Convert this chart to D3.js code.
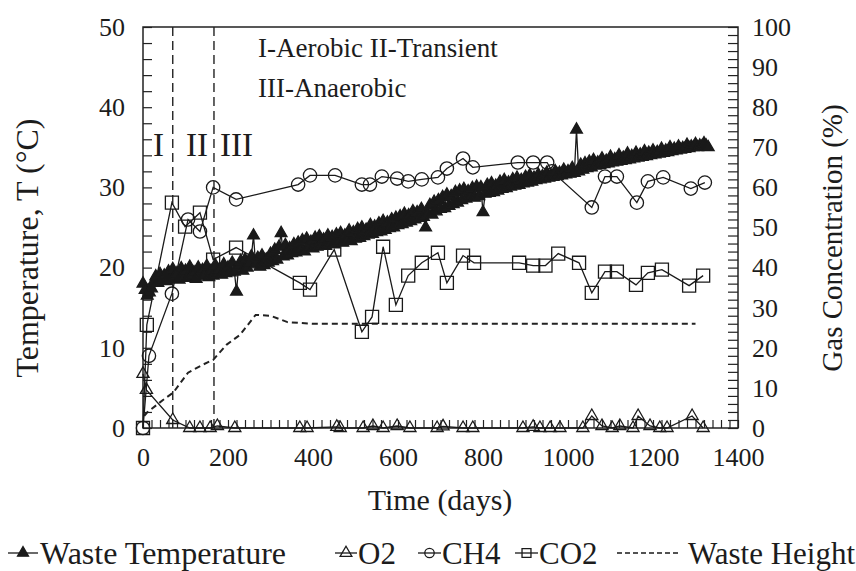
<!DOCTYPE html>
<html>
<head>
<meta charset="utf-8">
<script src="https://cdn.jsdelivr.net/npm/d3@7"></script>
<style>
  body { margin: 0; background: #fff; }
</style>
</head>
<body>
<div id="viz"></div>
<script>
const FONT = "'Liberation Serif', 'Tinos', 'Times New Roman', 'DejaVu Serif', serif";

// waste temperature (degC), one reading every 5 days from day 0
const tempStep = 5;
const temperature = [
  18.0, 17.2, 16.5, 16.9, 17.4, 18.2, 18.9, 18.1, 19.2, 18.4,
  19.0, 18.3, 19.5, 18.6, 19.8, 18.9, 19.3, 18.5, 19.9, 18.8,
  19.6, 18.7, 20.1, 19.0, 19.4, 18.6, 20.0, 18.9, 19.7, 19.1,
  20.2, 18.8, 19.6, 19.0, 20.3, 19.2, 19.8, 19.1, 20.4, 19.3,
  20.0, 19.4, 20.6, 19.5, 17.0, 20.2, 20.8, 19.6, 21.0, 20.0,
  20.6, 21.4, 24.0, 20.4, 21.2, 20.1, 21.5, 20.3, 21.0, 20.6,
  21.7, 20.8, 22.2, 21.0, 22.6, 24.3, 21.4, 22.8, 21.5, 22.4,
  21.8, 22.9, 21.9, 23.1, 22.2, 23.4, 22.0, 23.6, 22.5, 23.2,
  22.4, 23.7, 22.6, 23.9, 22.8, 23.5, 22.7, 24.0, 23.0, 23.8,
  22.9, 24.1, 23.2, 24.3, 23.1, 24.0, 23.4, 24.6, 23.3, 24.4,
  23.6, 24.8, 23.7, 25.0, 23.9, 24.7, 24.1, 25.3, 24.2, 25.1,
  24.4, 25.5, 24.5, 25.8, 24.7, 25.6, 24.9, 26.0, 25.0, 26.2,
  25.3, 26.4, 25.4, 26.7, 25.6, 26.5, 25.8, 27.0, 26.0, 26.9,
  26.2, 27.3, 26.3, 25.0, 26.7, 27.8, 26.6, 28.2, 27.0, 28.4,
  27.3, 28.8, 27.4, 29.1, 27.7, 28.9, 27.9, 29.4, 28.1, 29.6,
  28.4, 29.8, 28.6, 29.5, 28.8, 29.9, 28.7, 30.1, 28.9, 30.0,
  26.9, 29.2, 30.3, 29.3, 30.5, 29.4, 30.2, 29.6, 30.7, 29.8,
  30.9, 29.9, 30.6, 30.1, 31.0, 30.2, 31.2, 30.3, 30.9, 30.5,
  31.3, 30.6, 31.5, 30.7, 31.2, 30.9, 31.6, 31.0, 31.4, 31.1,
  31.8, 31.2, 31.5, 31.3, 32.0, 31.4, 31.8, 31.5, 32.2, 31.6,
  32.0, 31.7, 32.4, 31.8, 37.2, 32.0, 32.8, 32.2, 33.0, 32.4,
  33.2, 32.5, 33.4, 32.7, 33.1, 32.8, 33.6, 32.9, 33.3, 33.0,
  33.8, 33.1, 33.5, 33.2, 34.0, 33.3, 33.7, 33.4, 34.2, 33.5,
  33.9, 33.6, 34.3, 33.7, 34.1, 33.8, 34.5, 33.9, 34.3, 34.0,
  34.6, 34.1, 34.4, 34.2, 34.8, 34.3, 34.6, 34.4, 35.0, 34.5,
  34.8, 34.6, 35.1, 34.7, 34.9, 34.8, 35.3, 34.9, 35.1, 35.0,
  35.4, 35.0, 35.2, 35.1, 35.5, 35.2, 35.0
];

// gas concentrations, [day, %]
const o2 = [
  [0,13.5],[8,9.5],[70,2],[110,0],[134,0],[158,0],[175,0.5],[216,0],[369,0],[386,0],
  [456,0.3],[464,0],[518,0],[541,0.5],[565,0],[598,0.5],[628,0],[692,0],[706,0.4],[753,0],
  [776,0],[894,0],[918,0.3],[934,0],[958,0],[981,0],[1035,0],[1056,3],[1080,0.5],[1104,0],
  [1122,0.5],[1153,0],[1165,3],[1193,0.5],[1216,0],[1233,0],[1292,3],[1318,0]
];
const ch4 = [
  [0,0],[14,18],[68,33.5],[106,52],[134,49],[165,60],[219,57],[365,60.7],[393,63],[452,63],
  [515,60.7],[534,60.7],[562,62.7],[598,62.2],[624,61.5],[656,62],[694,62.5],[715,64.7],[753,67.2],[776,65],
  [882,66.2],[918,66.2],[951,66.2],[962,64],[1056,55],[1087,62.7],[1115,62.7],[1162,56.2],[1188,61.5],[1224,62.5],
  [1289,59.7],[1322,61.2]
];
const co2 = [
  [0,0],[9,25.7],[68,56.2],[99,50.2],[134,53.7],[165,42],[219,45],[369,36.2],[393,34.5],[450,44.5],
  [515,24],[539,27.7],[565,45.2],[595,30.7],[624,38],[656,41.2],[694,43.7],[715,36.2],[753,43],[779,41.2],
  [885,41.2],[918,40.5],[947,40.5],[977,43.5],[1026,41.2],[1056,33.7],[1087,39],[1115,39],[1160,35.7],[1188,38.7],
  [1221,39.5],[1285,35.5],[1318,38]
];
// waste height, drawn on the left axis
const wasteHeight = [
  [3,1.5],[9,1.9],[47,3.5],[71,4.4],[106,6.9],[141,7.9],[165,8.5],[197,10.4],[228,11.6],[265,14.1],
  [300,14.0],[340,13.2],[400,13.0],[1300,13.0]
];
const phaseDays = [70, 167];

const tempPoints = temperature.map((v, i) => [i * tempStep, v]);

const W = 856, H = 571;
const svg = d3.select("#viz").append("svg").attr("width", W).attr("height", H)
  .attr("font-family", FONT).style("font-family", FONT);

const x = d3.scaleLinear().domain([0, 1400]).range([143, 738]);
const yL = d3.scaleLinear().domain([0, 50]).range([428, 27]);
const yR = d3.scaleLinear().domain([0, 100]).range([428, 27]);

// axes with inward ticks
const bottom = svg.append("g").attr("transform", "translate(0,428)")
  .call(d3.axisBottom(x).tickValues(d3.range(0, 1401, 20)).tickSizeInner(-8).tickSizeOuter(0)
    .tickPadding(20).tickFormat(d => d % 200 === 0 ? d : ""));
const left = svg.append("g").attr("transform", "translate(143,0)")
  .call(d3.axisLeft(yL).tickValues(d3.range(0, 51, 2)).tickSizeInner(-9).tickSizeOuter(0)
    .tickPadding(18).tickFormat(d => d % 10 === 0 ? d : ""));
const right = svg.append("g").attr("transform", "translate(738,0)")
  .call(d3.axisRight(yR).tickValues(d3.range(0, 101, 2)).tickSizeInner(-10).tickSizeOuter(0)
    .tickPadding(14).tickFormat(d => d % 10 === 0 ? d : ""));
[bottom, left, right].forEach(g => {
  g.attr("font-family", FONT);
  g.select(".domain").remove();
  g.selectAll(".tick line").attr("stroke", "#222").attr("stroke-width", 1.2);
  g.selectAll(".tick text").style("font-family", FONT).style("font-size", "26px").attr("fill", "#1c1c1c");
});

svg.append("rect").attr("x", 143).attr("y", 27).attr("width", 595).attr("height", 401)
  .attr("fill", "none").attr("stroke", "#222").attr("stroke-width", 1.5);

// phase boundaries
svg.selectAll(".phase").data(phaseDays).join("line")
  .attr("x1", d => x(d)).attr("x2", d => x(d)).attr("y1", 27).attr("y2", 428)
  .attr("stroke", "#222").attr("stroke-width", 1.4).attr("stroke-dasharray", "9,5");

const lineL = d3.line().x(d => x(d[0])).y(d => yL(d[1]));
const lineR = d3.line().x(d => x(d[0])).y(d => yR(d[1]));

svg.append("path").datum(wasteHeight).attr("d", lineL)
  .attr("fill", "none").attr("stroke", "#222").attr("stroke-width", 2).attr("stroke-dasharray", "6,4");

function series(data, line, shape, size, filled) {
  svg.append("path").datum(data).attr("d", line)
    .attr("fill", "none").attr("stroke", "#1a1a1a").attr("stroke-width", 1.3);
  svg.append("g").selectAll("path").data(data).join("path")
    .attr("transform", d => `translate(${line.x()(d)},${line.y()(d)})`)
    .attr("d", d3.symbol(shape, size))
    .attr("fill", filled ? "#1a1a1a" : "none")
    .attr("stroke", "#1a1a1a").attr("stroke-width", 1.3);
}
series(co2, lineR, d3.symbolSquare, 170, false);
series(ch4, lineR, d3.symbolCircle, 140, false);
series(o2, lineR, d3.symbolTriangle, 64, false);
series(tempPoints, lineL, d3.symbolTriangle, 60, true);

function label(px, py, size, t) {
  return svg.append("text").attr("x", px).attr("y", py)
    .style("font-family", FONT).style("font-size", size + "px").attr("fill", "#1c1c1c").text(t);
}

// annotations
label(258, 57, 27, "I-Aerobic II-Transient");
label(258, 97, 27, "III-Anaerobic");
[["I", 153], ["II", 186], ["III", 220]].forEach(([t, px]) => label(px, 156, 33, t));

// axis titles
label(0, 0, 32, "Temperature, T (°C)").attr("transform", "translate(38,248) rotate(-90)")
  .attr("text-anchor", "middle");
label(0, 0, 29, "Gas Concentration (%)").attr("transform", "translate(842,238) rotate(-90)")
  .attr("text-anchor", "middle");
label(440, 510, 30, "Time (days)").attr("text-anchor", "middle");

// legend
const legendY = 553;
const legend = [
  { label: "Waste Temperature", x0: 8, x1: 38, shape: d3.symbolTriangle, size: 52, filled: true, tx: 40, fs: 32 },
  { label: "O2", x0: 335, x1: 357, shape: d3.symbolTriangle, size: 60, filled: false, tx: 358, fs: 31 },
  { label: "CH4", x0: 418, x1: 441, shape: d3.symbolCircle, size: 70, filled: false, tx: 442, fs: 31 },
  { label: "CO2", x0: 515, x1: 538, shape: d3.symbolSquare, size: 80, filled: false, tx: 539, fs: 31 },
];
legend.forEach(l => {
  svg.append("line").attr("x1", l.x0).attr("x2", l.x1).attr("y1", legendY).attr("y2", legendY)
    .attr("stroke", "#1a1a1a").attr("stroke-width", 1.3);
  svg.append("path").attr("transform", `translate(${(l.x0 + l.x1) / 2},${legendY})`)
    .attr("d", d3.symbol(l.shape, l.size)).attr("fill", l.filled ? "#1a1a1a" : "none")
    .attr("stroke", "#1a1a1a").attr("stroke-width", 1.3);
  label(l.tx, legendY + 11, l.fs, l.label);
});
svg.append("line").attr("x1", 617).attr("x2", 680).attr("y1", legendY).attr("y2", legendY)
  .attr("stroke", "#1a1a1a").attr("stroke-width", 1.5).attr("stroke-dasharray", "5,3");
label(688, legendY + 11, 31, "Waste Height");
</script>
</body>
</html>
